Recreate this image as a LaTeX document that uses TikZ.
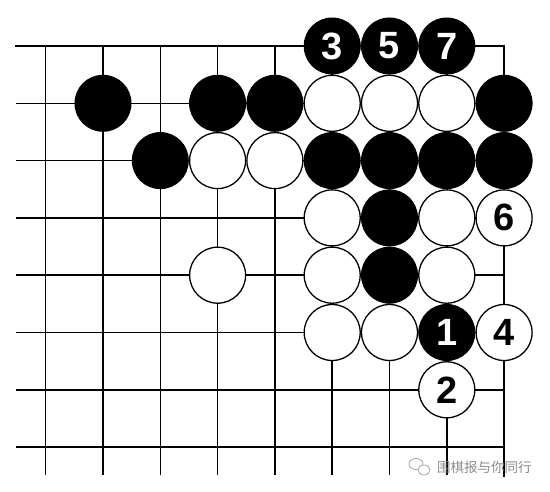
\documentclass[tikz,border=0pt]{standalone}
\usepackage{fontspec}
\setmainfont{Liberation Sans}
\newfontfamily\cjk{Noto Sans CJK SC}
\begin{document}
\begin{tikzpicture}[x=1pt,y=-1pt,
  gridline/.style={line width=1.5pt,black},
  edgeline/.style={line width=2.7pt,black},
  bstone/.style={circle,fill=black,draw=black,line width=1pt,minimum size=56pt,inner sep=0pt,
     text=white,font=\fontsize{38}{38}\selectfont\bfseries},
  wstone/.style={circle,fill=white,draw=black,line width=1.3pt,minimum size=56pt,inner sep=0pt,
     text=black,font=\fontsize{38}{38}\selectfont\bfseries},
  wmark/.style={text=black!45,font=\cjk\fontsize{13.5}{14}\selectfont,inner sep=0pt}
]
\useasboundingbox (0,0) rectangle (550,492);
\fill[white] (0,0) rectangle (550,492);
\def\cx#1{45.7+57.3*#1}
\def\ry#1{46+57.3*#1}
% grid
\foreach \i in {0,...,7} {
  \draw[gridline] ({\cx{\i}},46) -- ({\cx{\i}},475);
}
\foreach \j in {1,...,7} {
  \draw[gridline] (16,{\ry{\j}}) -- ({\cx{8}},{\ry{\j}});
}
\draw[edgeline,line cap=rect] (16,46) -- ({\cx{8}},46) -- ({\cx{8}},476);
% stones
\newcommand\bst[4]{\node[bstone] (#1) at ({\cx{#2}},{\ry{#3}}) {#4};}
\newcommand\wst[4]{\node[wstone] (#1) at ({\cx{#2}},{\ry{#3}}) {#4};}
\bst{m3}{5}{0}{3}
\bst{m5}{6}{0}{5}
\bst{m7}{7}{0}{7}
\bst{b11}{1}{1}{}
\bst{b31}{3}{1}{}
\bst{b41}{4}{1}{}
\wst{w51}{5}{1}{}
\wst{w61}{6}{1}{}
\wst{w71}{7}{1}{}
\bst{b81}{8}{1}{}
\bst{b22}{2}{2}{}
\wst{w32}{3}{2}{}
\wst{w42}{4}{2}{}
\bst{b52}{5}{2}{}
\bst{b62}{6}{2}{}
\bst{b72}{7}{2}{}
\bst{b82}{8}{2}{}
\wst{w53}{5}{3}{}
\bst{b63}{6}{3}{}
\wst{w73}{7}{3}{}
\wst{m6}{8}{3}{6}
\wst{w34}{3}{4}{}
\wst{w54}{5}{4}{}
\bst{b64}{6}{4}{}
\wst{w74}{7}{4}{}
\wst{w55}{5}{5}{}
\wst{w65}{6}{5}{}
\bst{m1}{7}{5}{1}
\wst{m4}{8}{5}{4}
\wst{m2}{7}{6}{2}
% watermark
\node[wmark,anchor=west] (wm) at (437,467) {围棋报与你同行};
\begin{scope}[draw=black!35,line width=0.8pt]
  \draw (416,464) ellipse (7pt and 5.5pt);
  \draw[fill=white] (424,470) ellipse (6pt and 5pt);
\end{scope}
\end{tikzpicture}
\end{document}
